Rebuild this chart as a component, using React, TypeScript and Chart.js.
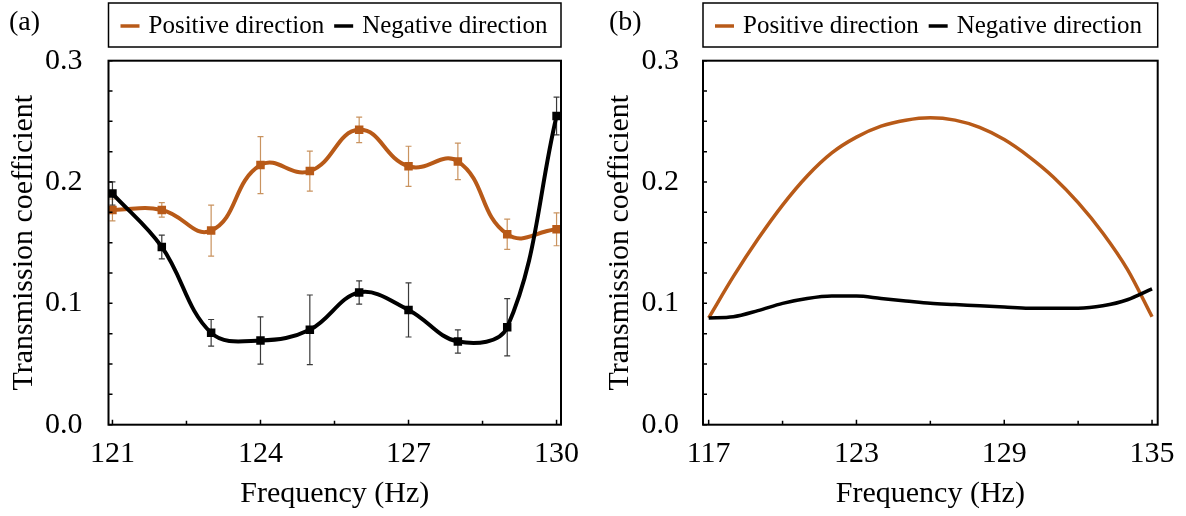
import React, { useEffect, useRef } from 'react';
import { Chart, registerables } from 'chart.js';
Chart.register(...registerables);

const FONT = "'Liberation Serif', 'Times New Roman', serif";
const ORANGE = '#B85A18';
const ORANGE_ERR = '#C9935F';
const BLACK = '#000000';
const BLACK_ERR = '#3A3A3A';

const seriesLabels = ['Positive direction', 'Negative direction'];
const yTicks = [0, 0.1, 0.2, 0.3];
const yMinor = [0.025, 0.05, 0.075, 0.125, 0.15, 0.175, 0.225, 0.25, 0.275];

// Panel (a)
const freqA = [121, 122, 123, 124, 125, 126, 127, 128, 129, 130];
const posA = [0.177, 0.177, 0.16, 0.214, 0.209, 0.243, 0.213, 0.217, 0.157, 0.161];
const posAErr = [0.009, 0.006, 0.021, 0.0235, 0.0165, 0.0105, 0.0165, 0.015, 0.0125, 0.0135];
const negA = [0.1905, 0.1465, 0.0757, 0.0694, 0.0782, 0.109, 0.0946, 0.0686, 0.0803, 0.2544];
const negAErr = [0.0096, 0.0098, 0.011, 0.0195, 0.0287, 0.0096, 0.0223, 0.0096, 0.0236, 0.0156];
const xTicksA = [121, 124, 127, 130];
const xMinorA = [122.5, 125.5, 128.5];

// Panel (b)
const freqB = [117, 118, 119, 120, 121, 122, 123, 124, 125, 126, 127, 128, 129, 130, 131, 132, 133, 134, 135];
const posB = [0.088, 0.122, 0.153, 0.181, 0.205, 0.224, 0.237, 0.246, 0.251, 0.253, 0.251, 0.245, 0.235, 0.221, 0.204, 0.183, 0.158, 0.128, 0.089];
const negB = [0.088, 0.089, 0.094, 0.1, 0.104, 0.106, 0.106, 0.104, 0.102, 0.1, 0.099, 0.098, 0.097, 0.096, 0.096, 0.096, 0.098, 0.103, 0.112];
const xTicksB = [117, 123, 129, 135];
const xMinorB = [120, 126, 132];

const pts = (xs: number[], ys: number[]) => xs.map((x, i) => ({ x, y: ys[i] }));

const errorBarPlugin = {
  id: 'errorBars',
  beforeDatasetsDraw(chart: any) {
    const ctx = chart.ctx;
    const xs = chart.scales.x;
    const ys = chart.scales.y;
    chart.data.datasets.forEach((ds: any) => {
      if (!ds.errors) return;
      ctx.save();
      ctx.strokeStyle = ds.errorColor;
      ctx.lineWidth = 1.2;
      ds.data.forEach((p: any, i: number) => {
        const x = xs.getPixelForValue(p.x);
        const y1 = ys.getPixelForValue(p.y + ds.errors[i]);
        const y2 = ys.getPixelForValue(p.y - ds.errors[i]);
        ctx.beginPath();
        ctx.moveTo(x, y1);
        ctx.lineTo(x, y2);
        ctx.moveTo(x - 3, y1);
        ctx.lineTo(x + 3, y1);
        ctx.moveTo(x - 3, y2);
        ctx.lineTo(x + 3, y2);
        ctx.stroke();
      });
      ctx.restore();
    });
  },
};

const framePlugin = {
  id: 'frame',
  afterDraw(chart: any, _args: any, opts: any) {
    const ctx = chart.ctx;
    const { left, right, top, bottom } = chart.chartArea;
    const xs = chart.scales.x;
    const ys = chart.scales.y;
    ctx.save();
    ctx.strokeStyle = '#000';
    ctx.lineWidth = 1.5;
    ctx.beginPath();
    [...yTicks, ...yMinor].forEach((v) => {
      const y = ys.getPixelForValue(v);
      ctx.moveTo(left, y);
      ctx.lineTo(left + 4, y);
    });
    (opts.xMajor as number[]).forEach((v) => {
      const x = xs.getPixelForValue(v);
      ctx.moveTo(x, bottom);
      ctx.lineTo(x, bottom - 5);
    });
    (opts.xMinor as number[]).forEach((v) => {
      const x = xs.getPixelForValue(v);
      ctx.moveTo(x, bottom);
      ctx.lineTo(x, bottom - 4);
    });
    ctx.stroke();
    ctx.lineWidth = 2;
    ctx.strokeRect(left, top, right - left, bottom - top);

    // legend box
    const boxTop = 3;
    const boxH = 44;
    ctx.lineWidth = 1.5;
    ctx.strokeRect(left, boxTop, right - left, boxH);
    const cy = boxTop + boxH / 2 + 1;
    ctx.font = `25px ${FONT}`;
    ctx.textBaseline = 'middle';
    ctx.textAlign = 'left';
    let x = left + 12;
    chart.data.datasets.forEach((ds: any) => {
      ctx.strokeStyle = ds.borderColor;
      ctx.lineWidth = 3.5;
      ctx.beginPath();
      ctx.moveTo(x, cy);
      ctx.lineTo(x + 19, cy);
      ctx.stroke();
      x += 19 + 9;
      ctx.fillStyle = '#000';
      ctx.fillText(ds.label, x, cy);
      x += ctx.measureText(ds.label).width + 10;
    });

    // panel label
    ctx.font = `28px ${FONT}`;
    ctx.fillStyle = '#000';
    ctx.textBaseline = 'middle';
    ctx.fillText(opts.panel, opts.panelX, 23);
    ctx.restore();
  },
};

function makeConfig(p: any) {
  return {
    type: 'line',
    data: { datasets: p.datasets },
    options: {
      responsive: false,
      animation: false,
      layout: { padding: { top: 60.7, right: p.padRight, bottom: 0, left: 0 } },
      plugins: {
        legend: { display: false },
        tooltip: { enabled: false },
        frame: { xMajor: p.xMajor, xMinor: p.xMinor, panel: p.panel, panelX: p.panelX },
      },
      scales: {
        x: {
          type: 'linear',
          min: p.xMin,
          max: p.xMax,
          grid: { display: false },
          border: { display: false },
          afterBuildTicks: (s: any) => {
            s.ticks = p.xMajor.map((v: number) => ({ value: v }));
          },
          afterFit: (s: any) => {
            s.height = 91.3;
          },
          ticks: {
            padding: 3,
            color: '#000',
            font: { family: FONT, size: 30 },
            maxRotation: 0,
            autoSkip: false,
            callback: (v: any) => String(v),
          },
          title: {
            display: true,
            text: 'Frequency (Hz)',
            color: '#000',
            font: { family: FONT, size: 30 },
            padding: { top: 0, bottom: 4 },
          },
        },
        y: {
          type: 'linear',
          min: 0,
          max: 0.3,
          grid: { display: false },
          border: { display: false },
          afterBuildTicks: (s: any) => {
            s.ticks = yTicks.map((v) => ({ value: v }));
          },
          afterFit: (s: any) => {
            s.width = p.yWidth;
          },
          ticks: {
            padding: p.yPad,
            color: '#000',
            font: { family: FONT, size: 30 },
            callback: (v: any) => Number(v).toFixed(1),
          },
          title: {
            display: true,
            text: 'Transmission coefficient',
            color: '#000',
            font: { family: FONT, size: 30 },
            padding: { top: p.yTitlePad, bottom: 0 },
          },
        },
      },
    },
    plugins: [errorBarPlugin, framePlugin],
  };
}

const configA = () =>
  makeConfig({
    datasets: [
      {
        label: seriesLabels[0],
        data: pts(freqA, posA),
        errors: posAErr,
        errorColor: ORANGE_ERR,
        borderColor: ORANGE,
        backgroundColor: ORANGE,
        borderWidth: 4,
        pointStyle: 'rect',
        pointRadius: 6,
        pointBorderWidth: 0,
        tension: 0.45,
        order: 1,
      },
      {
        label: seriesLabels[1],
        data: pts(freqA, negA),
        errors: negAErr,
        errorColor: BLACK_ERR,
        borderColor: BLACK,
        backgroundColor: BLACK,
        borderWidth: 4,
        pointStyle: 'rect',
        pointRadius: 6,
        pointBorderWidth: 0,
        tension: 0.38,
        order: 0,
      },
    ],
    xMin: 120.92,
    xMax: 130.09,
    xMajor: xTicksA,
    xMinor: xMinorA,
    padRight: 32,
    yWidth: 108.5,
    yPad: 18,
    yTitlePad: 6,
    panel: '(a)',
    panelX: 9,
  });

const configB = () =>
  makeConfig({
    datasets: [
      {
        label: seriesLabels[0],
        data: pts(freqB, posB),
        borderColor: ORANGE,
        backgroundColor: ORANGE,
        borderWidth: 3.5,
        pointRadius: 0,
        cubicInterpolationMode: 'monotone',
        order: 1,
      },
      {
        label: seriesLabels[1],
        data: pts(freqB, negB),
        borderColor: BLACK,
        backgroundColor: BLACK,
        borderWidth: 3.5,
        pointRadius: 0,
        cubicInterpolationMode: 'monotone',
        order: 0,
      },
    ],
    xMin: 116.77,
    xMax: 135.23,
    xMajor: xTicksB,
    xMinor: xMinorB,
    padRight: 28.3,
    yWidth: 110,
    yPad: 16,
    yTitlePad: 9,
    panel: '(b)',
    panelX: 16,
  });

function Panel({ make, left }: { make: () => any; left: number }) {
  const ref = useRef<HTMLCanvasElement | null>(null);
  useEffect(() => {
    if (!ref.current) return;
    const chart = new Chart(ref.current, make());
    return () => chart.destroy();
  }, [make]);
  return (
    <canvas
      ref={ref}
      width={593}
      height={516}
      style={{ position: 'absolute', left, top: 0, width: 593, height: 516 }}
    />
  );
}

export default function App() {
  return (
    <div
      style={{
        position: 'absolute',
        left: 0,
        top: 0,
        width: 1186,
        height: 516,
        background: '#fff',
        overflow: 'hidden',
      }}
    >
      <Panel make={configA} left={0} />
      <Panel make={configB} left={593} />
    </div>
  );
}
